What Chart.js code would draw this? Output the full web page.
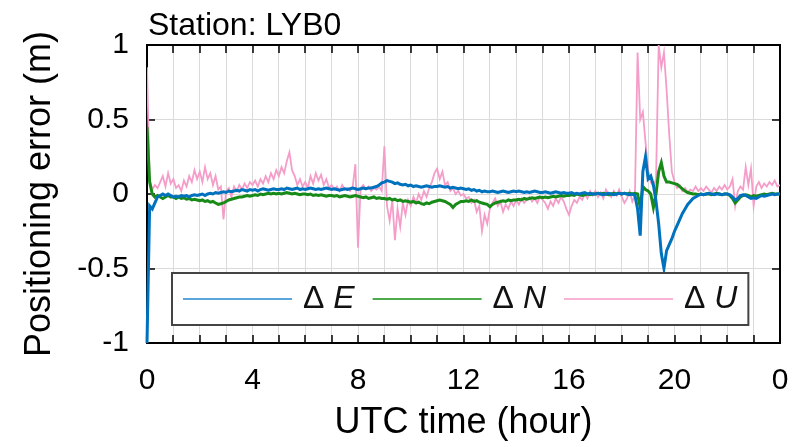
<!DOCTYPE html>
<html>
<head>
<meta charset="utf-8">
<script src="https://cdn.jsdelivr.net/npm/chart.js@4.4.1/dist/chart.umd.min.js"></script>
<style>
  html, body { margin: 0; padding: 0; background: #fff; }
</style>
</head>
<body>
<canvas id="errChart" width="810" height="447"></canvas>
<script>
const stationName = 'LYB0';
const sampleStep = 0.1; // hours between samples
const xTickLabels = ['0', '4', '8', '12', '16', '20', '0'];
const seriesNames = ['E', 'N', 'U'];

// east error (m), one row per hour
const dE = [
  -1.0,-0.08,-0.1,-0.06,-0.02,-0.01,0.0,-0.01,0.0,-0.01,
  -0.02,-0.015,-0.02,-0.01,-0.015,-0.01,-0.02,-0.01,-0.005,-0.01,
  -0.005,0.0,-0.01,0.0,0.005,0.0,0.01,0.005,0.01,0.015,
  0.01,0.02,0.015,0.02,0.025,0.02,0.03,0.025,0.02,0.03,
  0.025,0.03,0.02,0.03,0.035,0.03,0.025,0.03,0.035,0.03,
  0.03,0.035,0.03,0.04,0.035,0.03,0.035,0.04,0.03,0.035,
  0.03,0.035,0.04,0.035,0.03,0.035,0.03,0.035,0.04,0.035,
  0.03,0.035,0.03,0.025,0.03,0.035,0.03,0.035,0.04,0.035,
  0.03,0.035,0.04,0.035,0.04,0.04,0.045,0.05,0.06,0.075,
  0.08,0.09,0.085,0.08,0.07,0.075,0.065,0.06,0.065,0.055,
  0.06,0.05,0.055,0.05,0.045,0.05,0.055,0.05,0.045,0.05,
  0.05,0.055,0.05,0.045,0.05,0.04,0.045,0.04,0.035,0.04,
  0.035,0.03,0.035,0.025,0.03,0.02,0.025,0.015,0.02,0.015,
  0.015,0.02,0.015,0.01,0.015,0.02,0.015,0.01,0.015,0.02,
  0.015,0.02,0.015,0.01,0.015,0.01,0.015,0.02,0.015,0.01,
  0.01,0.015,0.01,0.005,0.01,0.015,0.01,0.005,0.01,0.005,
  0.005,0.01,0.0,0.005,0.0,0.005,0.01,0.0,0.005,0.0,
  0.0,0.005,0.0,-0.005,0.0,0.005,0.0,-0.005,0.0,0.005,
  0.0,0.005,0.0,-0.005,0.0,-0.01,-0.1,-0.28,0.15,0.25,
  0.1,0.12,0.06,-0.05,-0.2,-0.4,-0.5,-0.38,-0.34,-0.3,
  -0.25,-0.21,-0.17,-0.13,-0.1,-0.07,-0.05,-0.03,-0.02,-0.01,
  0.0,-0.005,0.0,0.005,0.0,-0.005,0.0,0.0,-0.005,0.0,
  0.0,-0.005,-0.02,-0.04,-0.03,-0.01,-0.005,-0.01,-0.02,-0.03,
  -0.025,-0.03,-0.02,-0.01,-0.015,-0.01,-0.005,0.0,-0.005,0.0,
  0.0
];

// north error (m)
const dN = [
  0.45,0.08,0.0,-0.02,-0.01,-0.02,-0.03,-0.02,-0.01,-0.02,
  -0.02,-0.03,-0.02,-0.03,-0.025,-0.035,-0.03,-0.04,-0.035,-0.04,
  -0.045,-0.04,-0.05,-0.045,-0.055,-0.05,-0.06,-0.07,-0.065,-0.06,
  -0.05,-0.04,-0.035,-0.03,-0.025,-0.02,-0.02,-0.015,-0.01,-0.015,
  -0.01,-0.005,-0.01,0.0,-0.005,0.0,0.005,0.0,0.005,0.0,
  0.005,0.0,0.005,0.01,0.005,0.0,0.005,0.0,-0.005,0.0,
  0.0,-0.005,0.0,-0.01,-0.005,-0.01,-0.005,-0.01,-0.015,-0.01,
  -0.01,-0.015,-0.01,-0.02,-0.015,-0.01,-0.015,-0.02,-0.015,-0.01,
  -0.015,-0.02,-0.025,-0.02,-0.03,-0.025,-0.02,-0.03,-0.025,-0.03,
  -0.03,-0.035,-0.03,-0.04,-0.035,-0.045,-0.04,-0.05,-0.045,-0.05,
  -0.055,-0.05,-0.06,-0.055,-0.065,-0.07,-0.06,-0.065,-0.055,-0.05,
  -0.045,-0.04,-0.045,-0.05,-0.06,-0.07,-0.09,-0.07,-0.06,-0.05,
  -0.05,-0.045,-0.05,-0.04,-0.05,-0.045,-0.055,-0.06,-0.065,-0.07,
  -0.085,-0.07,-0.06,-0.055,-0.05,-0.045,-0.05,-0.04,-0.045,-0.04,
  -0.04,-0.035,-0.04,-0.03,-0.035,-0.03,-0.025,-0.03,-0.025,-0.02,
  -0.025,-0.02,-0.025,-0.02,-0.015,-0.02,-0.015,-0.01,-0.015,-0.01,
  -0.01,-0.005,-0.01,0.0,-0.005,-0.01,-0.005,0.0,-0.005,0.0,
  0.0,0.005,0.0,0.005,0.0,-0.005,0.0,0.005,0.0,0.005,
  0.0,0.005,0.0,0.005,0.0,0.005,0.0,-0.09,0.05,0.03,
  0.02,0.0,-0.09,0.0,0.15,0.21,0.12,0.08,0.08,0.075,
  0.07,0.065,0.05,0.035,0.02,0.01,0.005,0.0,0.0,-0.005,
  0.0,-0.005,0.0,0.0,-0.005,0.0,0.005,0.0,-0.005,0.0,
  0.0,-0.01,-0.03,-0.06,-0.04,-0.02,-0.01,-0.005,-0.01,-0.02,
  -0.01,-0.015,-0.01,-0.005,0.0,-0.005,0.0,0.005,0.0,0.0,
  0.0
];

// up error (m)
const dU = [
  0.85,0.1,0.03,0.06,0.04,0.08,0.12,0.05,0.14,0.07,
  0.1,0.04,0.06,0.02,0.09,0.05,0.12,0.08,0.16,0.1,
  0.15,0.08,0.18,0.1,0.14,0.06,0.12,0.03,0.05,-0.17,
  0.02,0.04,-0.02,0.05,0.02,0.06,0.03,0.07,0.04,0.08,
  0.06,0.09,0.05,0.1,0.07,0.12,0.08,0.14,0.1,0.16,
  0.12,0.18,0.14,0.22,0.28,0.16,0.12,0.06,0.1,0.05,
  0.08,0.04,0.12,0.07,0.14,0.09,0.13,0.06,0.1,0.04,
  0.06,0.03,0.05,0.02,0.06,0.03,0.04,0.02,0.05,0.2,
  -0.36,0.04,0.06,0.03,0.05,0.02,0.04,0.03,0.05,0.02,
  0.32,-0.08,-0.18,-0.04,-0.31,-0.1,-0.22,-0.06,-0.14,-0.04,
  -0.08,-0.02,-0.06,0.0,-0.04,0.02,-0.02,0.04,0.08,0.14,
  0.17,0.1,0.15,0.06,0.08,0.02,0.04,0.0,0.02,-0.01,
  0.0,-0.03,-0.02,-0.06,-0.04,-0.12,-0.08,-0.25,-0.14,-0.2,
  -0.1,-0.06,-0.03,-0.08,-0.05,-0.12,-0.07,-0.1,-0.05,-0.08,
  -0.04,-0.07,-0.03,-0.06,-0.04,-0.02,-0.05,-0.03,-0.06,-0.02,
  -0.04,-0.06,-0.1,-0.05,-0.08,-0.03,-0.06,-0.02,-0.05,-0.1,
  -0.14,-0.08,-0.04,-0.06,-0.02,-0.04,0.0,-0.03,0.02,-0.01,
  0.02,-0.02,0.01,-0.03,0.03,0.0,-0.02,0.02,-0.01,0.03,
  -0.02,-0.06,-0.03,0.02,-0.05,-0.01,0.95,0.5,0.55,0.35,
  0.16,0.08,0.05,0.1,1.0,0.85,0.95,0.7,0.4,0.15,
  0.08,0.04,0.06,0.02,0.04,0.01,0.03,0.02,0.05,0.02,
  0.04,0.02,0.05,0.03,0.01,0.04,0.02,0.05,0.03,0.06,
  0.03,0.05,0.1,-0.08,0.02,0.05,0.03,0.18,0.06,0.17,
  -0.08,0.05,0.08,0.04,0.07,0.05,0.08,0.06,0.09,0.05,
  0.06
];

const lineColors = ['#0072bd', '#188a18', '#f59dc9'];
const legendColors = ['#5aa5dc', '#4caa4c', '#f7b4d5'];

const FONT = "'Liberation Sans', Arial, sans-serif";
Chart.defaults.font.family = FONT;
Chart.defaults.color = '#000';

const toPoints = arr => arr.map((v, i) => ({ x: +(i * sampleStep).toFixed(1), y: v }));

// box round the plot plus inward tick marks on all four sides
const frameTicks = {
  id: 'frameTicks',
  beforeDatasetsDraw(chart) {
    const { ctx, chartArea: a, scales: { x, y } } = chart;
    ctx.save();
    ctx.strokeStyle = '#000';
    ctx.lineWidth = 1.5;
    ctx.beginPath();
    x.ticks.forEach(t => {
      const px = Math.round(x.getPixelForValue(t.value));
      ctx.moveTo(px, a.bottom); ctx.lineTo(px, a.bottom - 8);
      ctx.moveTo(px, a.top); ctx.lineTo(px, a.top + 8);
    });
    y.ticks.forEach(t => {
      const py = Math.round(y.getPixelForValue(t.value));
      ctx.moveTo(a.left, py); ctx.lineTo(a.left + 8, py);
      ctx.moveTo(a.right, py); ctx.lineTo(a.right - 8, py);
    });
    ctx.stroke();
    ctx.lineWidth = 2;
    ctx.strokeRect(a.left, a.top, a.right - a.left, a.bottom - a.top);
    ctx.restore();
  },
  afterDraw(chart) {
    const { ctx, chartArea: a } = chart;
    ctx.save();
    ctx.fillStyle = '#000';
    ctx.font = '32px ' + FONT;
    ctx.textBaseline = 'alphabetic';
    ctx.fillText('Station: ' + stationName, a.left + 1, 35);
    ctx.restore();
  }
};

// legend box sitting inside the lower part of the plot
const insideLegend = {
  id: 'insideLegend',
  afterDatasetsDraw(chart) {
    const { ctx, chartArea: a } = chart;
    const lineLen = 109, padIn = 11, gap = 11, itemGap = 18;
    const upright = '32px ' + FONT, italic = 'italic 32px ' + FONT;
    ctx.save();
    const widths = seriesNames.map(n => {
      ctx.font = upright; const w1 = ctx.measureText('\u0394 ').width;
      ctx.font = italic; const w2 = ctx.measureText(n).width;
      return [w1, w2];
    });
    let total = padIn * 2;
    widths.forEach((w, i) => { total += lineLen + gap + w[0] + w[1] + (i < widths.length - 1 ? itemGap : 0); });
    const left = a.left + 25, top = a.bottom - 70, h = 52;
    ctx.fillStyle = '#fff';
    ctx.fillRect(left, top, total, h);
    ctx.strokeStyle = '#444';
    ctx.lineWidth = 2;
    ctx.strokeRect(left, top, total, h);
    const cy = top + h / 2;
    let cx = left + padIn;
    seriesNames.forEach((n, i) => {
      ctx.strokeStyle = legendColors[i];
      ctx.lineWidth = 2;
      ctx.beginPath();
      ctx.moveTo(cx, cy); ctx.lineTo(cx + lineLen, cy);
      ctx.stroke();
      cx += lineLen + gap;
      ctx.fillStyle = '#111';
      ctx.textBaseline = 'middle';
      ctx.font = upright;
      ctx.fillText('\u0394 ', cx, cy);
      cx += widths[i][0];
      ctx.font = italic;
      ctx.fillText(n, cx, cy);
      cx += widths[i][1] + itemGap;
    });
    ctx.restore();
  }
};

new Chart(document.getElementById('errChart'), {
  type: 'line',
  data: {
    datasets: [
      { label: '\u0394 E', data: toPoints(dE), borderColor: lineColors[0], borderWidth: 3,
        clip: { left: 3, top: 0, right: 0, bottom: 0 } },
      { label: '\u0394 N', data: toPoints(dN), borderColor: lineColors[1], borderWidth: 3 },
      { label: '\u0394 U', data: toPoints(dU), borderColor: lineColors[2], borderWidth: 1.8 }
    ]
  },
  options: {
    responsive: false,
    animation: false,
    devicePixelRatio: 1,
    layout: { padding: { top: 45, right: 30, left: 0, bottom: 0 } },
    elements: { point: { radius: 0 }, line: { tension: 0 } },
    plugins: { legend: { display: false }, tooltip: { enabled: false } },
    scales: {
      x: {
        type: 'linear',
        min: 0, max: 24,
        afterFit: s => { s.height = 104; },
        border: { display: false },
        grid: { color: '#dadada', drawTicks: false },
        ticks: {
          stepSize: 1, autoSkip: false, maxRotation: 0, padding: 20,
          font: { size: 30 },
          callback: v => (v % 4 === 0 ? xTickLabels[v / 4] : '')
        },
        title: { display: true, text: 'UTC time (hour)', font: { size: 36 }, padding: { top: 0, bottom: 2 } }
      },
      y: {
        min: -1, max: 1,
        afterFit: s => { s.width = 147; },
        border: { display: false },
        grid: { color: '#dadada', drawTicks: false },
        ticks: { stepSize: 0.5, padding: 18, font: { size: 30 }, callback: v => String(v) },
        title: { display: true, text: 'Positioning error (m)', font: { size: 36 }, padding: { top: 18, bottom: 0 } }
      }
    }
  },
  plugins: [frameTicks, insideLegend]
});
</script>
</body>
</html>
